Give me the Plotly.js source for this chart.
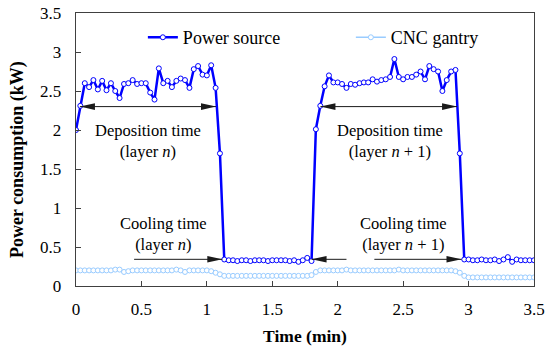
<!DOCTYPE html>
<html>
<head>
<meta charset="utf-8">
<script src="https://cdn.plot.ly/plotly-3.0.1.min.js"></script>
<style>html,body{margin:0;padding:0;background:#fff}#chart{width:550px;height:347px}</style>
</head>
<body>
<div id="chart"></div>
<script>
// Time (min)
const timeMin = [
  0, 0.033, 0.067, 0.1, 0.133, 0.167, 0.2, 0.233, 0.267, 0.3,
  0.333, 0.367, 0.4, 0.433, 0.467, 0.5, 0.533, 0.567, 0.6, 0.633,
  0.667, 0.7, 0.733, 0.767, 0.8, 0.833, 0.867, 0.9, 0.933, 0.967,
  1, 1.033, 1.067, 1.1, 1.133, 1.167, 1.2, 1.233, 1.267, 1.3,
  1.333, 1.367, 1.4, 1.433, 1.467, 1.5, 1.533, 1.567, 1.6, 1.633,
  1.667, 1.7, 1.733, 1.767, 1.8, 1.833, 1.867, 1.9, 1.933, 1.967,
  2, 2.033, 2.067, 2.1, 2.133, 2.167, 2.2, 2.233, 2.267, 2.3,
  2.333, 2.367, 2.4, 2.433, 2.467, 2.5, 2.533, 2.567, 2.6, 2.633,
  2.667, 2.7, 2.733, 2.767, 2.8, 2.833, 2.867, 2.9, 2.933, 2.967,
  3, 3.033, 3.067, 3.1, 3.133, 3.167, 3.2, 3.233, 3.267, 3.3,
  3.333, 3.367, 3.4, 3.433, 3.467, 3.5
];
// Power source (kW)
const powerSource = [
  2.00, 2.31, 2.60, 2.55, 2.64, 2.52, 2.63, 2.51, 2.60, 2.50,
  2.41, 2.59, 2.60, 2.64, 2.59, 2.60, 2.60, 2.48, 2.39, 2.79,
  2.60, 2.63, 2.55, 2.63, 2.66, 2.64, 2.54, 2.78, 2.82, 2.71,
  2.70, 2.83, 2.54, 1.70, 0.34, 0.33, 0.33, 0.32, 0.33, 0.33,
  0.32, 0.33, 0.33, 0.33, 0.32, 0.33, 0.33, 0.33, 0.33, 0.32,
  0.33, 0.31, 0.33, 0.36, 0.32, 2.01, 2.31, 2.56, 2.70, 2.61,
  2.61, 2.59, 2.54, 2.59, 2.58, 2.60, 2.61, 2.61, 2.65, 2.62,
  2.64, 2.65, 2.68, 2.91, 2.68, 2.65, 2.68, 2.68, 2.71, 2.75,
  2.65, 2.82, 2.78, 2.75, 2.50, 2.64, 2.75, 2.77, 1.70, 0.34,
  0.34, 0.33, 0.33, 0.34, 0.33, 0.33, 0.34, 0.32, 0.34, 0.37,
  0.31, 0.34, 0.33, 0.33, 0.33, 0.33
];
// CNC gantry (kW)
const cncGantry = [
  0.20, 0.20, 0.20, 0.20, 0.20, 0.20, 0.20, 0.20, 0.20, 0.21,
  0.21, 0.18, 0.19, 0.20, 0.20, 0.20, 0.20, 0.20, 0.20, 0.20,
  0.20, 0.20, 0.20, 0.21, 0.20, 0.18, 0.20, 0.20, 0.20, 0.20,
  0.20, 0.19, 0.17, 0.15, 0.13, 0.13, 0.13, 0.13, 0.13, 0.13,
  0.13, 0.13, 0.13, 0.13, 0.13, 0.13, 0.13, 0.13, 0.13, 0.13,
  0.13, 0.13, 0.13, 0.13, 0.14, 0.18, 0.20, 0.20, 0.20, 0.20,
  0.20, 0.20, 0.21, 0.20, 0.20, 0.20, 0.20, 0.20, 0.20, 0.20,
  0.20, 0.20, 0.20, 0.20, 0.21, 0.20, 0.20, 0.20, 0.20, 0.20,
  0.20, 0.20, 0.20, 0.20, 0.20, 0.20, 0.20, 0.19, 0.17, 0.13,
  0.11, 0.11, 0.11, 0.11, 0.11, 0.11, 0.11, 0.11, 0.11, 0.11,
  0.11, 0.11, 0.11, 0.11, 0.11, 0.11
];
const seriesNames = ['Power source', 'CNC gantry'];
const xTickVals = [0, 0.5, 1, 1.5, 2, 2.5, 3, 3.5];
const yTickVals = [0, 0.5, 1, 1.5, 2, 2.5, 3, 3.5];

const FONT = 'Liberation Serif';
const AX = '#404040';
const ARROW = '#1a1a1a';

const traces = [
  {
    x: timeMin, y: powerSource, name: seriesNames[0], type: 'scatter', mode: 'lines+markers',
    legendwidth: 163,
    line: {color: '#0000FF', width: 2.5},
    marker: {symbol: 'circle', size: 5, color: '#ffffff', line: {color: '#0000FF', width: 1}}
  },
  {
    x: timeMin, y: cncGantry, name: seriesNames[1], type: 'scatter', mode: 'lines+markers',
    legendwidth: 90,
    line: {color: '#99CCFF', width: 1.5},
    marker: {symbol: 'circle', size: 5, color: '#ffffff', line: {color: '#99CCFF', width: 1}}
  }
];

function hline(x0, x1, y) {
  return {type: 'line', xref: 'x', yref: 'y', x0: x0, x1: x1, y0: y, y1: y, line: {color: ARROW, width: 1}};
}
function head(x, y, dir) {
  const L = 15 * dir, W = 3.3;
  return {type: 'path', xref: 'x', yref: 'y', xsizemode: 'pixel', ysizemode: 'pixel',
          xanchor: x, yanchor: y, path: `M0,0L${-L},${W}L${-L},${-W}Z`,
          fillcolor: ARROW, line: {width: 0}};
}
const shapes = [
  hline(0.03, 1.07, 2.30), head(0.03, 2.30, -1), head(1.07, 2.30, 1),
  hline(1.868, 2.912, 2.30), head(1.868, 2.30, -1), head(2.912, 2.30, 1),
  hline(0.444, 1.118, 0.342), head(1.118, 0.342, 1),
  hline(1.80, 2.067, 0.342), head(1.80, 0.342, -1),
  hline(2.28, 2.946, 0.342), head(2.946, 0.342, 1)
];

const annFont = {family: FONT, size: 16.5, color: '#000'};
const annotations = [
  {x: 0.551, y: 1.86, xref: 'x', yref: 'y', showarrow: false, text: 'Deposition time<br>(layer <i>n</i>)', font: annFont},
  {x: 2.397, y: 1.86, xref: 'x', yref: 'y', showarrow: false, text: 'Deposition time<br>(layer <i>n</i> + 1)', font: annFont},
  {x: 0.666, y: 0.667, xref: 'x', yref: 'y', showarrow: false, text: 'Cooling time<br>(layer <i>n</i>)', font: annFont},
  {x: 2.50, y: 0.667, xref: 'x', yref: 'y', showarrow: false, text: 'Cooling time<br>(layer <i>n</i> + 1)', font: annFont},
  // y-axis title (placed like the reference, slightly below the plot centre)
  {xref: 'paper', yref: 'paper', x: -0.1288, y: 0.4615, xanchor: 'center', yanchor: 'middle', textangle: -90,
   showarrow: false, text: '<b>Power consumption (kW)</b>', font: {family: FONT, size: 18, color: '#000'}}
];

const axisBase = {
  range: [0, 3.5], ticks: 'inside', ticklen: 5, tickwidth: 1, tickcolor: AX,
  showline: true, linecolor: AX, linewidth: 1.3, mirror: true,
  showgrid: false, zeroline: false, tickfont: {family: FONT, size: 17, color: '#000'}
};

const layout = {
  width: 550, height: 347,
  margin: {l: 76, r: 16, t: 13, b: 61},
  paper_bgcolor: '#ffffff', plot_bgcolor: '#ffffff',
  font: {family: FONT, size: 16, color: '#000'},
  xaxis: Object.assign({}, axisBase, {
    tickvals: xTickVals, ticktext: xTickVals.map(String), ticklabelstandoff: 7,
    title: {text: '<b>Time (min)</b>', font: {family: FONT, size: 17.5, color: '#000'}, standoff: 12}
  }),
  yaxis: Object.assign({}, axisBase, {
    tickvals: yTickVals, ticktext: yTickVals.map(String), ticklabelstandoff: 10
  }),
  legend: {
    orientation: 'h', x: 0.146, xanchor: 'left', y: 0.91, yanchor: 'middle',
    font: {family: FONT, size: 18, color: '#000'}, bgcolor: 'rgba(0,0,0,0)'
  },
  shapes: shapes,
  annotations: annotations,
  showlegend: true
};

Plotly.newPlot('chart', traces, layout, {displayModeBar: false, staticPlot: true});
</script>
</body>
</html>
